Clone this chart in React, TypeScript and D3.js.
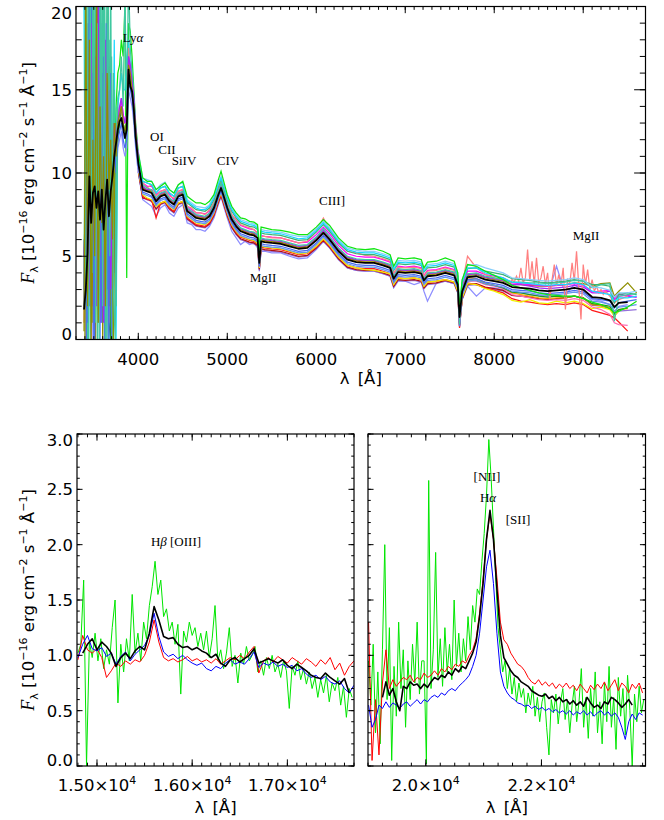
import React from "react";
import * as d3 from "d3";

type Pt = [number, number | null];

const SANS = "'DejaVu Sans', Verdana, sans-serif";
const SERIF = "'Liberation Serif', 'Times New Roman', serif";

// ================= TOP PANEL (observed optical) =================
const TOP_XRANGE = [3300, 9700];
const TOP_YRANGE = [0, 20];
const TOP_XTICKS = [4000, 5000, 6000, 7000, 8000, 9000];
const TOP_XTICK_LABELS = ["4000", "5000", "6000", "7000", "8000", "9000"];
const TOP_YTICKS = [0, 5, 10, 15, 20];
const TOP_YTICK_LABELS = ["0", "5", "10", "15", "20"];

// blue end sampling (3390..3970, 20 A)
const BLUE_WAVE = d3.range(3390, 3971, 20);
// second blue-end sampling (3400..3760, 20 A)
const BLUE2_WAVE = d3.range(3400, 3761, 20);
const TOP_WAVE = [4000, 4050, 4100, 4150, 4200, 4250, 4300, 4350, 4400, 4450, 4500, 4550, 4600, 4650, 4700, 4750, 4800, 4850, 4900, 4930, 4960, 5000, 5050, 5100, 5150, 5200, 5250, 5300, 5340, 5360, 5380, 5420, 5500, 5600, 5700, 5800, 5900, 6000, 6080, 6150, 6250, 6350, 6450, 6550, 6650, 6750, 6830, 6870, 6920, 7000, 7100, 7180, 7210, 7250, 7350, 7450, 7550, 7590, 7610, 7640, 7700, 7800, 7900, 8000, 8100, 8200, 8300, 8400, 8500, 8600, 8700, 8800, 8900, 9000, 9100, 9200, 9300, 9350, 9400, 9500, 9600];

const BLACK_BLUE = [1.8, 3.0, 5.2, 9.8, 7.0, 8.8, 9.2, 7.9, 8.9, 7.2, 9.0, 6.6, 8.3, 9.6, 7.4, 8.9, 9.8, 11.0, 11.8, 12.6, 13.1, 13.3, 12.7, 12.1, 12.6, 16.2, 15.2, 14.9, 13.8, 12.2];
const BLACK_MAIN = [10.6, 9.0, 8.9, 8.8, 8.3, 8.6, 8.7, 8.3, 8.1, 8.6, 8.7, 7.7, 7.5, 7.3, 7.25, 7.2, 7.4, 7.9, 8.7, 9.1, 8.6, 7.9, 7.2, 6.8, 6.5, 6.4, 6.3, 6.25, 6.1, 4.6, 5.9, 5.85, 5.8, 5.75, 5.6, 5.45, 5.5, 5.95, 6.4, 6.0, 5.3, 4.8, 4.65, 4.6, 4.6, 4.45, 4.3, 3.65, 4.05, 4.0, 4.05, 3.95, 3.55, 3.8, 3.85, 4.0, 3.85, 3.3, 1.35, 2.9, 3.75, 3.8, 3.6, 3.5, 3.4, 3.15, 3.1, 3.05, 2.95, 2.9, 2.95, 3.0, 3.1, 3.0, 2.55, 2.5, 2.35, 1.95, 2.2, 2.25, null];

const GREEN_BLUE = [null, null, null, null, null, null, null, null, null, null, null, null, null, null, null, 0, 12, 10, 14, 16, 16.5, 18, 17, 20, 3.7, 19, 18.5, 17, 15, 13];
const GREEN_MAIN = [11.2, 9.7, 9.5, 9.5, 9.0, 9.2, 9.4, 9.0, 8.8, 9.3, 9.5, 8.6, 8.4, 8.2, 8.2, 8.1, 8.3, 8.7, 9.6, 10.1, 9.5, 8.7, 8.0, 7.6, 7.3, 7.25, 7.1, 7.05, 6.9, 5.4, 6.75, 6.7, 6.6, 6.55, 6.45, 6.3, 6.3, 6.75, 7.2, 6.85, 6.1, 5.6, 5.45, 5.4, 5.45, 5.3, 5.1, 4.4, 4.9, 4.85, 4.9, 4.8, 4.3, 4.65, 4.7, 4.9, 4.7, 4.0, 1.9, 3.6, 4.5, 4.4, 4.1, 3.85, 3.6, 3.25, 3.1, 2.95, 2.8, 2.7, 2.65, 2.6, 2.6, 2.45, 2.25, 2.1, 1.85, 1.6, 1.7, 1.95, 2.3];
const CYAN_BLUE = [20, 0, 15, 4, 20, 1, 12, 6, 22, 0, 9, 18, 3, 14, 0, 11, 5, 18, 0, 14, 15, 16, 15, 15, 17, 18, 16.5, 16, 14.5, 12.5];
const CYAN_MAIN = [11.0, 9.5, 9.4, 9.3, 8.8, 9.1, 9.2, 8.8, 8.6, 9.1, 9.2, 8.3, 8.1, 7.9, 7.8, 7.8, 8.0, 8.5, 9.3, 9.7, 9.2, 8.5, 7.8, 7.4, 7.1, 7.0, 6.9, 6.85, 6.7, 5.1, 6.5, 6.45, 6.4, 6.35, 6.2, 6.05, 6.1, 6.55, 7.0, 6.6, 5.9, 5.4, 5.25, 5.2, 5.2, 5.05, 4.9, 4.2, 4.65, 4.6, 4.65, 4.55, 4.1, 4.4, 4.45, 4.6, 4.45, 3.8, 1.5, 3.4, 4.3, 4.3, 4.0, 3.85, 3.7, 3.45, 3.4, 3.35, 3.3, 3.25, 3.3, 3.3, 3.4, 3.3, 2.9, 2.8, 2.7, 2.3, 2.5, 2.5, 2.6];
const SKY_MAIN = [11.3, 9.7, 9.6, 9.5, 9.0, 9.3, 9.45, 9.0, 8.8, 9.3, 9.4, 8.4, 8.2, 8.0, 7.95, 7.9, 8.1, 8.6, 9.4, 9.8, 9.3, 8.6, 7.9, 7.5, 7.2, 7.1, 7.0, 6.95, 6.8, 5.3, 6.6, 6.55, 6.5, 6.45, 6.3, 6.2, 6.2, 6.65, 7.1, 6.7, 6.0, 5.5, 5.35, 5.3, 5.3, 5.15, 5.0, 4.35, 4.75, 4.7, 4.75, 4.65, 4.25, 4.5, 4.55, 4.7, 4.55, 4.0, 1.9, 3.6, 4.45, 4.5, 4.3, 4.15, 4.0, 3.7, 3.65, 3.6, 3.55, 3.5, 3.55, 3.6, 3.7, 3.6, 3.15, 3.1, 2.95, 2.55, 2.8, 2.8, 2.9];
const SEAGREEN_MAIN = [11.1, 9.5, 9.4, 9.3, 8.8, 9.1, 9.2, 8.8, 8.6, 9.1, 9.2, 8.2, 8.0, 7.8, 7.75, 7.7, 7.9, 8.4, 9.2, 9.6, 9.1, 8.4, 7.7, 7.3, 7.0, 6.9, 6.8, 6.75, 6.6, 5.1, 6.4, 6.35, 6.3, 6.25, 6.1, 5.95, 6.0, 6.45, 6.9, 6.5, 5.8, 5.3, 5.15, 5.1, 5.1, 4.95, 4.8, 4.15, 4.55, 4.5, 4.55, 4.45, 4.05, 4.3, 4.35, 4.5, 4.35, 3.8, 1.7, 3.4, 4.25, 4.3, 4.1, 4.0, 3.9, 3.65, 3.6, 3.55, 3.45, 3.4, 3.45, 3.5, 3.6, 3.5, 3.3, 3.3, 3.2, 2.2, 2.7, 2.8, 2.7];
const SALMON_BLUE = [1, 9, 3, 16, 0, 13, 8, 19, 2, 12, 4, 20, 6, 11, 1, 14, 10, 12, 12.5, 13.5, 14, 14, 13, 13, 13.5, 17.5, 16, 15.5, 14, 12.5];
const SALMON_MAIN = [10.9, 9.4, 9.1, 9.3, 8.6, 8.9, 9.0, 8.6, 8.5, 8.9, 9.0, 8.0, 7.9, 7.6, 7.6, 7.5, 7.8, 8.2, 9.1, 9.5, 9.0, 8.2, 7.5, 7.2, 6.9, 6.8, 6.7, 6.6, 6.4, 4.9, 6.2, 6.2, 6.1, 6.1, 5.95, 5.8, 5.9, 6.5, 7.3, 6.6, 5.8, 5.3, 5.2, 5.05, 5.0, 4.85, 4.7, 4.0, 4.35, 4.3, 4.35, 4.25, 3.8, 4.1, 4.15, 4.3, 4.15, 3.5, 1.2, 3.3, 5.0, 4.3, 3.9, 3.7, 3.6, null, null, null, null, null, null, null, null, null, null, null, 2.6, 2.2, 2.4, 2.6, null];
// salmon red-end noise, 8150..9250 every 25 A
const SALMON_RED_WAVE = d3.range(8150, 9251, 25);
const SALMON_RED = [3.5, 3.4, 3.6, 3.45, 3.8, 3.5, 4.3, 3.4, 3.7, 5.4, 3.5, 4.7, 3.3, 4.9, 3.4, 3.7, 4.4, 3.3, 4.0, 2.4, 3.6, 4.5, 3.2, 3.9, 3.3, 4.3, 1.8, 3.6, 3.4, 4.6, 3.5, 5.3, 3.2, 1.2, 4.5, 3.3, 4.2, 3.0, 3.6, 2.9, 3.2, 2.8, 3.0, 2.7, 2.9];
const LAVENDER_BLUE = [6, 0, 14, 2, 11, 0, 16, 4, 13, 0, 19, 3, 10, 0, 12, 2, 7, 11, 10, 11.5, 12, 12.5, 11.5, 11, 11.5, 15, 14.5, 14, 13, 11.5];
const LAVENDER_MAIN = [10.0, 8.4, 8.2, 8.0, 7.4, 7.9, 8.1, 7.6, 7.4, 7.9, 8.1, 7.0, 6.9, 6.6, 6.6, 6.5, 6.8, 7.3, 8.1, 8.6, 8.0, 7.3, 6.5, 6.1, 5.7, 5.9, 5.7, 5.8, 5.5, 4.2, 5.3, 5.3, 5.2, 5.2, 5.0, 4.85, 4.9, 5.4, 5.9, 5.5, 4.8, 4.3, 4.15, 4.1, 4.1, 3.95, 3.8, 3.1, 3.5, 3.5, 3.3, 3.45, 2.9, 2.3, 3.4, 3.5, 3.35, 2.8, 0.8, 2.4, 3.2, 2.6, 3.1, 3.1, 3.0, 2.8, 2.8, 2.7, 2.65, 2.6, 4.4, 2.7, 3.3, 2.9, 2.4, 2.3, 2.1, 1.6, 2.0, 2.1, null];
const MEDPURPLE_MAIN = [10.1, 8.5, 8.4, 8.3, 7.8, 8.1, 8.2, 7.8, 7.6, 8.1, 8.2, 7.2, 7.0, 6.8, 6.75, 6.7, 6.9, 7.4, 8.2, 8.6, 8.1, 7.4, 6.7, 6.3, 6.0, 5.9, 5.8, 5.75, 5.6, 4.1, 5.4, 5.35, 5.3, 5.25, 5.1, 4.95, 5.0, 5.45, 5.9, 5.5, 4.8, 4.3, 4.15, 4.1, 4.1, 3.95, 3.8, 3.15, 3.55, 3.5, 3.55, 3.45, 3.05, 3.3, 3.35, 3.5, 3.35, 2.8, 0.75, 2.4, 3.25, 3.3, 3.1, 3.0, 2.9, 2.65, 2.6, 2.55, 2.45, 2.4, 2.45, 2.5, 2.6, 2.5, 2.05, 2.0, 1.85, 1.45, 1.7, 1.75, 1.8];
const TEAL_BLUE = [3, 23, 0, 24, 2, 22, 0, 25, 1, 21, 3, 23, 0, 19, 4, 22, 0, 15, 2, 14.5, 15, 17, 14, 21, 13, 22, 17.5, 16, 14.5, 12.5];
const TEAL_MAIN = [10.9, 9.3, 9.1, 9.0, 8.5, 8.8, 8.9, 8.5, 8.3, 8.8, 8.9, 7.9, 7.7, 7.5, 7.45, 7.4, 7.6, 8.1, 8.9, 9.4, 8.8, 8.1, 7.4, 7.0, 6.7, 6.6, 6.5, 6.45, 6.3, 4.8, 6.1, 6.05, 6.0, 5.95, 5.8, 5.65, 5.7, 6.15, 6.65, 6.2, 5.5, 5.0, 4.85, 4.8, 4.8, 4.65, 4.5, 3.8, 4.25, 4.2, 4.25, 4.15, 3.6, 4.0, 4.05, 4.2, 4.05, 3.4, 0.9, 3.0, 3.95, 4.0, 3.8, 3.7, 3.6, 3.45, 3.45, 3.4, 3.4, 3.35, 3.4, 3.45, 3.55, 3.5, 3.1, 3.3, 3.35, 1.1, 2.6, 2.7, 2.75];
const TEAL2_BLUE = [20, 1, 23, 0, 22, 2, 24, 0, 21, 3, 25, 1, 20, 0, 18, 2, 16, 1, 14];
const TEAL3_BLUE = [2, 24, 0, 21, 4, 25, 1, 19, 0, 23, 2, 20, 0, 24, 5, 17, 3, 0, 13];
const OLIVE2_BLUE = [0, 19, 3, 22, 1, 17, 0, 20, 4, 18, 0, 15, 6, 21, 2, 12, 0, 13, 11];
const ROYAL2_BLUE = [15, 0, 19, 2, 23, 0, 17, 5, 22, 1, 16, 0, 19, 3, 14, 0, 12, 4, 12];
const MAGENTA_BLUE = [3, 11, 0, 9, 15, 2, 11, 7, 17, 1, 13, 5, 16, 2, 10, 7, 11, 12, 12.5, 13, 13.5, 14.5, 13.5, 13, 13.5, 17, 16, 15.5, 14, 12.5];
const MAGENTA_MAIN = [11.0, 9.4, 9.2, 9.2, 8.7, 8.9, 9.0, 8.7, 8.4, 8.9, 9.0, 8.0, 7.8, 7.6, 7.6, 7.55, 7.7, 8.2, 9.0, 9.45, 8.9, 8.2, 7.5, 7.15, 6.85, 6.75, 6.65, 6.6, 6.4, 4.9, 6.25, 6.2, 6.15, 6.1, 5.95, 5.8, 5.85, 6.3, 6.75, 6.35, 5.65, 5.15, 5.0, 4.95, 4.95, 4.8, 4.65, 3.95, 4.4, 4.35, 4.4, 4.3, 3.85, 4.15, 4.2, 4.35, 4.2, 3.6, 1.1, 3.2, 4.1, 4.1, 3.9, 3.8, 3.7, 3.4, 3.35, 3.3, 3.25, 3.2, 3.25, 3.3, 3.35, 3.25, 2.85, 2.9, 2.95, 2.4, 2.6, 2.65, 2.55];
const PURPLE_BLUE = [5, 8, 12, 3, 19, 6, 17, 2, 21, 5, 14, 1, 18, 7, 15, 3, 9, 13, 12, 13, 14, 14.5, 13.5, 13, 13.5, 17, 16.5, 15.5, 14.5, 12.8];
const PURPLE_MAIN = [10.8, 9.2, 9.0, 9.0, 8.45, 8.75, 8.85, 8.45, 8.25, 8.75, 8.85, 7.85, 7.65, 7.45, 7.4, 7.35, 7.55, 8.05, 8.85, 9.25, 8.75, 8.05, 7.35, 6.95, 6.65, 6.55, 6.45, 6.4, 6.25, 4.7, 6.05, 6.0, 5.95, 5.9, 5.75, 5.6, 5.65, 6.1, 6.55, 6.15, 5.45, 4.95, 4.8, 4.75, 4.75, 4.6, 4.45, 3.8, 4.2, 4.15, 4.2, 4.1, 3.7, 3.95, 4.0, 4.15, 4.0, 3.45, 1.0, 3.05, 3.9, 3.95, 3.75, 3.65, 3.55, 3.3, 3.3, 3.2, 3.1, 3.05, 3.1, 3.15, 3.25, 3.15, 2.8, 2.8, 2.9, 2.5, 2.75, 2.6, 2.55];
const ORANGE_MAIN = [10.65, 9.05, 8.95, 8.85, 8.35, 8.65, 8.75, 8.35, 8.15, 8.65, 8.75, 7.75, 7.55, 7.35, 7.3, 7.25, 7.45, 7.95, 8.75, 9.15, 8.65, 7.95, 7.25, 6.85, 6.55, 6.45, 6.35, 6.3, 6.15, 4.65, 5.95, 5.9, 5.85, 5.8, 5.65, 5.5, 5.55, 6.0, 6.45, 6.05, 5.35, 4.85, 4.7, 4.65, 4.65, 4.5, 4.35, 3.7, 4.1, 4.05, 4.1, 4.0, 3.6, 3.85, 3.9, 4.05, 3.9, 3.35, 1.1, 2.95, 3.7, 3.65, 3.4, 3.25, 3.1, 2.8, 2.7, 2.6, 2.5, 2.45, 2.5, 2.5, 2.6, 2.5, 2.1, 2.05, 1.9, 1.6, 1.8, 1.85, null];
const YELLOW_MAIN = [10.2, 8.7, 8.5, 8.4, 8.0, 8.2, 8.3, 8.0, 7.8, 8.2, 8.3, 7.4, 7.2, 7.0, 6.95, 6.9, 7.1, 7.6, 8.4, 8.8, 8.3, 7.6, 6.9, 6.5, 6.2, 6.1, 6.0, 5.95, 5.8, 4.3, 5.6, 5.55, 5.5, 5.45, 5.3, 5.15, 5.2, 5.6, 6.05, 5.65, 4.95, 4.45, 4.3, 4.2, 4.15, 4.05, 3.95, 3.3, 3.7, 3.65, 3.7, 3.6, 3.2, 3.45, 3.5, 3.6, 3.45, 2.9, 0.9, 2.5, 3.35, 3.3, 3.05, 2.9, 2.7, 2.35, 2.25, 2.4, 2.2, 2.15, 2.3, 2.2, 2.3, 2.15, 1.85, 1.95, 1.8, 1.4, 1.7, null, null];
const RED_MAIN = [10.3, 8.6, 8.4, 8.4, 7.3, 8.2, 8.3, 7.9, 7.7, 8.2, 8.3, 7.3, 7.1, 6.9, 6.85, 6.8, 7.0, 7.5, 8.3, 8.7, 8.2, 7.5, 6.85, 6.45, 6.15, 6.05, 5.95, 5.9, 5.75, 4.3, 5.55, 5.5, 5.45, 5.4, 5.25, 5.1, 5.15, 5.55, 6.0, 5.6, 4.95, 4.45, 4.3, 4.25, 4.25, 4.1, 3.95, 3.3, 3.7, 3.65, 3.7, 3.6, 3.2, 3.45, 3.5, 3.6, 3.45, 2.9, 0.7, 2.5, 3.4, 3.3, 3.1, 2.95, 2.8, 2.45, 2.3, 2.25, 2.15, 2.1, 2.15, 2.1, 2.2, 2.1, 1.75, 1.6, 1.45, 1.3, 1.05, 0.5, null];
const OLIVE_BLUE = [0.5, 21, 2, 18, 0, 12, 5, 20, 1, 14, 7, 11, 2, 16, 9, 12, 6, 13, 11, 13, 13.5, 14, 13, 12.5, 13, 16.5, 16, 15, 14, 12.5];
const OLIVE_MAIN = [10.7, 9.1, 9.0, 8.9, 8.4, 8.7, 8.8, 8.4, 8.2, 8.7, 8.8, 7.8, 7.6, 7.4, 7.35, 7.3, 7.5, 8.0, 8.8, 9.2, 8.7, 8.0, 7.3, 6.9, 6.6, 6.5, 6.4, 6.35, 6.2, 4.7, 6.0, 5.95, 5.9, 5.85, 5.7, 5.55, 5.6, 6.05, 6.5, 6.1, 5.4, 4.9, 4.75, 4.7, 4.7, 4.55, 4.4, 3.75, 4.15, 4.1, 4.15, 4.05, 3.65, 3.9, 3.95, 4.1, 3.95, 3.4, 1.2, 3.0, 3.85, 3.9, 3.7, 3.6, 3.5, 3.3, 3.3, 3.25, 3.2, 3.2, 3.25, 3.3, 3.4, 3.35, 3.2, 3.35, 3.4, 2.6, 2.9, 3.4, 2.8];
const ROYAL_BLUE = [2, 14, 1, 20, 5, 16, 0, 18, 3, 15, 1, 17, 4, 13, 0, 16, 8, 12, 10, 12, 12.5, 13, 12, 11.5, 12, 15.5, 15, 14.5, 13.5, 11.8];
const ROYAL_MAIN = [10.4, 8.85, 8.75, 8.6, 8.15, 8.45, 8.55, 8.15, 7.95, 8.45, 8.55, 7.55, 7.35, 7.15, 7.1, 7.05, 7.25, 7.75, 8.55, 8.95, 8.45, 7.75, 7.05, 6.65, 6.35, 6.25, 6.15, 6.1, 5.95, 4.4, 5.75, 5.7, 5.65, 5.6, 5.45, 5.3, 5.35, 5.8, 6.25, 5.85, 5.15, 4.65, 4.5, 4.45, 4.45, 4.3, 4.15, 3.5, 3.9, 3.85, 3.9, 3.8, 3.4, 3.65, 3.7, 3.85, 3.7, 3.15, 0.85, 2.75, 3.6, 3.65, 3.45, 3.35, 3.25, 3.0, 2.95, 2.9, 2.8, 2.75, 2.8, 2.85, 2.95, 2.85, 2.45, 2.4, 2.3, 1.9, 2.2, 2.3, 2.4];
const CORNFLOWER_MAIN = [10.35, 8.75, 8.65, 8.55, 8.05, 8.35, 8.45, 8.05, 7.85, 8.35, 8.45, 7.45, 7.25, 7.05, 7.0, 6.95, 7.15, 7.65, 8.45, 8.85, 8.35, 7.65, 6.95, 6.55, 6.25, 6.15, 6.05, 6.0, 5.85, 4.35, 5.65, 5.6, 5.55, 5.5, 5.35, 5.2, 5.25, 5.7, 6.15, 5.75, 5.05, 4.55, 4.4, 4.35, 4.35, 4.2, 4.05, 3.4, 3.8, 3.75, 3.8, 3.7, 3.3, 3.55, 3.6, 3.75, 3.6, 3.05, 0.8, 2.65, 3.5, 3.55, 3.35, 3.25, 3.15, 2.9, 2.85, 2.8, 2.7, 2.65, 2.7, 2.75, 2.85, 2.75, 2.3, 2.25, 2.1, 1.7, 1.95, 2.0, 2.1];
const DARKRED_MAIN = [10.1, 8.5, 8.45, 8.3, 7.85, 8.15, 8.25, 7.85, 7.65, 8.15, 8.25, 7.25, 7.05, 6.85, 6.8, 6.75, 6.95, 7.45, 8.25, 8.65, 8.15, 7.45, 6.75, 6.35, 6.05, 5.95, 5.85, 5.8, 5.65, 4.2, 5.45, 5.4, 5.35, 5.3, 5.15, 5.0, 5.05, 5.5, 5.95, 5.55, 4.85, 4.35, 4.2, 4.15, 4.15, 4.0, 3.85, 3.2, 3.6, 3.55, 3.6, 3.5, 3.1, 3.35, 3.4, 3.55, 3.4, 2.85, 0.9, 2.45, 3.3, 3.35, 3.15, 3.05, 2.95, 2.65, 2.6, 2.55, 2.45, 2.4, 2.45, 2.5, 2.6, 2.5, 2.1, 2.05, 1.9, 1.5, null, null, null];
// red-end only (7700..9600)
const PINK_RED = [3.5, 3.5, 3.3, 3.2, 3.05, 2.7, 2.6, 2.5, 2.4, 2.35, 2.4, 2.35, 2.45, 2.35, 1.95, 1.8, 1.5, 1.0, 0.9, 0.85, null];
const DKGREEN_BLUE = [5, 9, 2, 12, 6, 10, 3, 11, 7, 9, 4, 12, 8, 10, 1, 0, 12, 9, 11, 12, 13, 14, 13, 12.5, 13, 16, 15.5, 15, 13.5, 12];
const DKGREEN_RED = [3.6, 3.55, 3.35, 3.25, 3.1, 2.85, 2.8, 2.7, 2.6, 2.55, 2.6, 2.55, 2.6, 2.5, 2.15, 2.1, 2.0, 1.55, 1.8, 1.9, null];

const TOP_LINE_LABELS = ["Lyα", "OI", "CII", "SiIV", "CIV", "CIII]", "MgII", "MgII"];
const TOP_LINE_WAVE = [3941, 4210, 4323, 4514, 5008, 6177, 5402, 9032];
const TOP_LINE_FLUX = [17.87, 11.92, 11.15, 10.48, 10.48, 8.08, 3.45, 5.95];

// ================= BOTTOM PANELS (near-IR) =================
const BOT_YRANGE = [0, 3];
const BOT_YTICKS = [0, 0.5, 1, 1.5, 2, 2.5, 3];
const BOT_YTICK_LABELS = ["0.0", "0.5", "1.0", "1.5", "2.0", "2.5", "3.0"];

const BL_XRANGE = [14790, 17700];
const BL_XTICKS = [15000, 16000, 17000];
const BL_XTICK_LABELS = ["1.50×10", "1.60×10", "1.70×10"];
const BL_WAVE = d3.range(14800, 17701, 50);
const BL_BLACK = [null, 1.02, 1.10, 1.15, 1.05, 1.12, 1.08, 1.02, 0.90, 0.98, 1.02, 0.97, 1.04, 1.08, 1.05, 1.20, 1.44, 1.32, 1.17, 1.15, 1.16, 1.10, 1.07, 1.08, 1.05, 1.07, 1.04, 1.02, 0.98, 1.01, 0.93, 0.90, 0.96, 0.98, 0.94, 0.97, 1.00, 1.06, 0.93, 0.95, 0.97, 0.95, 0.93, 0.96, 0.91, 0.88, 0.92, 0.89, 0.86, 0.82, 0.80, 0.79, 0.84, 0.80, 0.77, 0.74, 0.79, 0.66, null];
const BL_RED = [0.96, 1.18, 1.05, 1.02, 1.06, 0.98, 0.80, 0.86, 0.93, 0.90, 0.95, 0.92, 0.96, 0.94, 1.00, 1.12, 1.32, 1.12, 0.98, 0.95, 0.97, 0.94, 0.96, 0.99, 0.95, 0.97, 0.94, 0.96, 0.93, 0.97, 0.92, 0.95, 0.98, 0.96, 1.00, 0.97, 1.03, 1.08, 0.84, 0.95, 0.98, 0.94, 0.99, 0.96, 0.93, 0.98, 0.95, 0.92, 0.97, 0.94, 0.90, 0.96, 0.92, 0.98, 0.87, 0.93, 0.82, 0.90, 0.95];
const BL_BLUE = [0.98, 1.10, 1.18, 1.06, 1.04, 1.07, 0.99, 1.02, 0.92, 0.99, 1.03, 0.95, 1.01, 1.05, 1.09, 1.18, 1.38, 1.17, 1.03, 0.99, 1.01, 0.97, 1.00, 0.96, 0.93, 0.91, 0.93, 0.88, 0.86, 0.90, 0.88, 0.93, 0.96, 0.92, 0.94, 0.92, 0.97, 1.03, 0.89, 0.93, 0.91, 0.94, 0.90, 0.92, 0.89, 0.91, 0.86, 0.88, 0.83, 0.80, 0.82, 0.78, 0.81, 0.76, 0.74, 0.77, 0.70, 0.66, 0.73];
const BL_GREEN_WAVE = d3.range(14800, 17681, 30);
const BL_GREEN = [1.02, 1.10, 1.68, 0.00, 1.12, 0.98, 1.20, 0.95, 1.15, 0.88, 1.05, 0.92, 1.25, 1.50, 0.57, 1.10, 0.85, 1.15, 0.95, 1.55, 1.02, 1.20, 0.95, 1.30, 1.15, 1.45, 1.62, 1.85, 1.55, 1.68, 1.35, 1.42, 1.22, 1.30, 1.10, 1.28, 0.65, 1.22, 1.12, 1.30, 1.18, 1.25, 1.08, 1.20, 1.05, 1.22, 0.98, 1.15, 1.45, 0.95, 1.05, 0.88, 1.02, 1.25, 0.90, 1.00, 0.75, 1.02, 0.92, 1.08, 0.95, 1.00, 1.08, 0.85, 0.95, 0.82, 0.98, 0.88, 1.00, 0.85, 0.92, 0.80, 0.95, 0.86, 0.52, 0.90, 0.82, 0.95, 0.78, 0.88, 0.74, 0.85, 0.70, 0.80, 0.62, 0.78, 0.66, 0.82, 0.58, 0.75, 0.68, 0.80, 0.55, 0.72, 0.44, 0.70, 0.62];
const BL_LINE_LABELS = ["Hβ [OIII]"];
const BL_LINE_WAVE = [15830];
const BL_LINE_FLUX = [1.99];

const BR_XRANGE = [19000, 23800];
const BR_XTICKS = [20000, 22000];
const BR_XTICK_LABELS = ["2.0×10", "2.2×10"];
const BR_WAVE = d3.range(19010, 23751, 60);
const BR_BLACK = [null, null, null, null, 0.62, 0.76, 0.64, 0.70, 0.58, 0.50, 0.72, 0.70, 0.76, 0.73, 0.74, 0.70, 0.74, 0.71, 0.76, 0.80, 0.78, 0.82, 0.80, 0.85, 0.82, 0.88, 0.85, 0.90, 0.88, 0.95, 1.02, 1.12, 1.35, 1.65, 2.05, 2.31, 2.05, 1.60, 1.18, 0.98, 0.92, 0.86, 0.82, 0.80, 0.76, 0.74, 0.72, 0.68, 0.66, 0.64, 0.63, 0.65, 0.61, 0.63, 0.59, 0.62, 0.58, 0.60, 0.56, 0.59, 0.55, 0.58, 0.54, 0.62, 0.57, 0.53, 0.55, 0.52, 0.58, 0.56, 0.62, 0.60, 0.57, 0.53, 0.56, 0.60, 0.55, null, null, null];
const BR_RED = [1.30, 0.05, 0.60, 0.10, 0.75, 1.05, 0.70, 0.78, 0.72, 0.76, 0.80, 0.78, 0.82, 0.76, 0.80, 0.78, 0.84, 0.80, 0.82, 0.86, 0.82, 0.88, 0.85, 0.90, 0.87, 0.92, 0.90, 0.95, 0.93, 1.00, 1.05, 1.15, 1.38, 1.68, 2.05, 2.28, 2.05, 1.70, 1.30, 1.14, 1.10, 1.02, 0.97, 0.92, 0.90, 0.86, 0.80, 0.76, 0.74, 0.78, 0.73, 0.76, 0.72, 0.75, 0.70, 0.74, 0.71, 0.75, 0.70, 0.73, 0.68, 0.74, 0.70, 0.66, 0.73, 0.69, 0.74, 0.70, 0.76, 0.68, 0.73, 0.78, 0.68, 0.75, 0.72, 0.66, 0.74, 0.70, 0.75, 0.66];
const BR_BLUE = [0.55, 0.35, 0.42, 0.55, 0.52, 0.58, 0.53, 0.57, 0.55, 0.52, 0.56, 0.58, 0.54, 0.57, 0.60, 0.56, 0.60, 0.58, 0.62, 0.64, 0.62, 0.66, 0.64, 0.68, 0.70, 0.68, 0.72, 0.75, 0.78, 0.82, 0.90, 1.00, 1.20, 1.50, 1.80, 1.95, 1.65, 1.20, 0.85, 0.72, 0.66, 0.62, 0.60, 0.57, 0.56, 0.54, 0.55, 0.52, 0.54, 0.51, 0.53, 0.50, 0.52, 0.49, 0.51, 0.48, 0.50, 0.47, 0.50, 0.46, 0.49, 0.47, 0.50, 0.46, 0.49, 0.45, 0.48, 0.50, 0.46, 0.49, 0.45, 0.48, 0.44, 0.35, 0.24, 0.40, 0.47, 0.42, 0.48, 0.46];
const BR_GREEN_WAVE = d3.range(19010, 23771, 40);
const BR_GREEN = [0.95, 0.55, 1.10, 0.30, 0.85, 0.20, 1.05, 2.00, 0.60, 1.25, 0.05, 0.90, 0.45, 1.30, 0.70, 1.05, 0.35, 0.95, 0.60, 1.10, 0.75, 1.30, 0.65, 0.95, 0.95, 0.02, 2.58, 0.70, 1.05, 1.93, 0.80, 1.15, 0.72, 1.25, 0.85, 1.10, 0.78, 1.50, 0.90, 1.20, 0.85, 1.15, 0.95, 1.35, 1.05, 1.45, 1.30, 1.60, 1.55, 1.85, 2.10, 2.45, 2.95, 2.60, 2.15, 1.70, 1.25, 1.05, 0.85, 0.95, 0.70, 0.88, 0.65, 0.80, 0.58, 0.75, 0.62, 0.70, 0.48, 0.66, 0.55, 0.72, 0.45, 0.62, 0.40, 0.58, 0.66, 0.35, 0.10, 0.60, 0.48, 0.65, 0.38, 0.58, 0.70, 0.42, 0.60, 0.30, 0.55, 0.72, 0.40, 0.58, 0.88, 0.35, 0.62, 0.25, 0.70, 0.45, 0.85, 0.30, 0.58, 0.20, 0.75, 0.40, 0.90, 0.35, 0.62, 0.15, 0.80, 0.45, 0.70, 0.28, 0.82, 0.50, 0.00, 0.65, 0.40, 0.72, 0.48, 0.60];
const BR_LINE_LABELS = ["[NII]", "Hα", "[SII]"];
const BR_LINE_WAVE = [21058, 21076, 21595];
const BR_LINE_FLUX = [2.575, 2.385, 2.187];

// ================= helpers =================
function zip(w: number[], v: (number | null)[]): Pt[] {
  return v.map((y, i) => [w[i], y] as Pt);
}

type Spec = { color: string; pts: Pt[] };

// main (>= 4000 A) parts, in drawing order
function mainSpec(color: string, main: (number | null)[], offset = 0, extra?: Pt[]): Spec {
  let pts = zip(TOP_WAVE.slice(offset), main);
  if (extra) {
    pts = pts.concat(extra).filter((p) => p[1] !== null);
    pts.sort((a, b) => a[0] - b[0]);
  }
  return { color, pts };
}
// blue-end parts (< 4000 A), joined to the first main sample
function blueSpec(color: string, blue: (number | null)[], wave: number[], join?: number | null): Spec {
  const pts = zip(wave, blue);
  if (join !== undefined) pts.push([TOP_WAVE[0], join]);
  return { color, pts };
}

const TOP_MAIN: Spec[] = [
  mainSpec("#8e8eff", LAVENDER_MAIN),
  mainSpec("#9370db", MEDPURPLE_MAIN),
  mainSpec("#b01010", DARKRED_MAIN),
  mainSpec("#ff1a1a", RED_MAIN),
  mainSpec("#f0f000", YELLOW_MAIN),
  mainSpec("#ffa500", ORANGE_MAIN),
  mainSpec("#ff6eb4", PINK_RED, 60),
  mainSpec("#1f9a1f", DKGREEN_RED, 60),
  mainSpec("#6495ed", CORNFLOWER_MAIN),
  mainSpec("#4a6cf0", ROYAL_MAIN),
  mainSpec("#8f8f00", OLIVE_MAIN),
  mainSpec("#a428f0", PURPLE_MAIN),
  mainSpec("#ff00ff", MAGENTA_MAIN),
  mainSpec("#ff8080", SALMON_MAIN, 0, zip(SALMON_RED_WAVE, SALMON_RED)),
  mainSpec("#3cb371", SEAGREEN_MAIN),
  mainSpec("#40c8a0", TEAL_MAIN),
  mainSpec("#87cefa", SKY_MAIN),
  mainSpec("#18d8ff", CYAN_MAIN),
  mainSpec("#10e610", GREEN_MAIN),
];

const TOP_BLUE_END: Spec[] = [
  blueSpec("#10e610", GREEN_BLUE, BLUE_WAVE, GREEN_MAIN[0]),
  blueSpec("#18d8ff", CYAN_BLUE, BLUE_WAVE, CYAN_MAIN[0]),
  blueSpec("#8e8eff", LAVENDER_BLUE, BLUE_WAVE, LAVENDER_MAIN[0]),
  blueSpec("#1f9a1f", DKGREEN_BLUE, BLUE_WAVE),
  blueSpec("#ff8080", SALMON_BLUE, BLUE_WAVE, SALMON_MAIN[0]),
  blueSpec("#ff00ff", MAGENTA_BLUE, BLUE_WAVE, MAGENTA_MAIN[0]),
  blueSpec("#40c8a0", TEAL2_BLUE, BLUE2_WAVE),
  blueSpec("#4a6cf0", ROYAL2_BLUE, BLUE2_WAVE),
  blueSpec("#40c8a0", TEAL_BLUE, BLUE_WAVE, TEAL_MAIN[0]),
  blueSpec("#8f8f00", OLIVE2_BLUE, BLUE2_WAVE),
  blueSpec("#a428f0", PURPLE_BLUE, BLUE_WAVE, PURPLE_MAIN[0]),
  blueSpec("#4a6cf0", ROYAL_BLUE, BLUE_WAVE, ROYAL_MAIN[0]),
  blueSpec("#40c8a0", TEAL3_BLUE, BLUE2_WAVE),
  blueSpec("#8f8f00", OLIVE_BLUE, BLUE_WAVE, OLIVE_MAIN[0]),
];

const TOP_BLACK: Pt[] = zip(BLUE_WAVE, BLACK_BLUE).concat(zip(TOP_WAVE, BLACK_MAIN));

function mkLine(x: d3.ScaleLinear<number, number>, y: d3.ScaleLinear<number, number>) {
  return d3
    .line<Pt>()
    .defined((d) => d[1] !== null)
    .x((d) => x(d[0]))
    .y((d) => y(d[1] as number));
}

function Frame(p: {
  x: d3.ScaleLinear<number, number>;
  y: d3.ScaleLinear<number, number>;
  xTicks: number[];
  xLabels: string[];
  xSup?: string;
  xMinorStep: number;
  yTicks: number[];
  yLabels?: string[];
  yMinorStep: number;
}) {
  const [L, R] = p.x.range();
  const [B, T] = p.y.range();
  const xl = 0.02 * (B - T);
  const yl = 0.02 * (R - L);
  const [xa, xb] = p.x.domain();
  const [ya, yb] = p.y.domain();
  const xm = d3.range(Math.ceil(xa / p.xMinorStep) * p.xMinorStep, xb + 1e-6, p.xMinorStep);
  const nY = Math.round((yb - ya) / p.yMinorStep);
  const ym = d3.range(0, nY + 1).map((i) => ya + i * p.yMinorStep);
  let d = "";
  xm.forEach((v) => {
    const px = p.x(v);
    d += `M${px},${B}V${B - xl / 2}M${px},${T}V${T + xl / 2}`;
  });
  p.xTicks.forEach((v) => {
    const px = p.x(v);
    d += `M${px},${B}V${B - xl}M${px},${T}V${T + xl}`;
  });
  ym.forEach((v) => {
    const py = p.y(v);
    d += `M${L},${py}H${L + yl / 2}M${R},${py}H${R - yl / 2}`;
  });
  p.yTicks.forEach((v) => {
    const py = p.y(v);
    d += `M${L},${py}H${L + yl}M${R},${py}H${R - yl}`;
  });
  return (
    <g>
      <path d={d} stroke="#000" strokeWidth={1} fill="none" />
      <rect x={L} y={T} width={R - L} height={B - T} fill="none" stroke="#000" strokeWidth={1.2} />
      {p.xTicks.map((v, i) => (
        <text key={"x" + i} x={p.x(v)} y={B + 25} textAnchor="middle" fontFamily={SANS} fontSize={16.5} fill="#000">
          {p.xLabels[i]}
          {p.xSup ? (
            <tspan dy={-7} fontSize={11}>
              {p.xSup}
            </tspan>
          ) : null}
        </text>
      ))}
      {p.yLabels
        ? p.yTicks.map((v, i) => {
            const c = Math.min(Math.max(p.y(v), T + 6), B - 6);
            return (
              <text key={"y" + i} x={L - 4} y={c + 6} textAnchor="end" fontFamily={SANS} fontSize={16.5} fill="#000">
                {p.yLabels![i]}
              </text>
            );
          })
        : null}
    </g>
  );
}

function YTitle({ x, y }: { x: number; y: number }) {
  return (
    <text transform={`translate(${x},${y}) rotate(-90)`} textAnchor="middle" fontFamily={SANS} fontSize={16.5} fill="#000">
      <tspan fontFamily={SERIF} fontStyle="italic" fontSize={18}>
        F
      </tspan>
      <tspan fontSize={11} dy={4}>
        λ
      </tspan>
      <tspan dy={-4}>{" [10"}</tspan>
      <tspan fontSize={11} dy={-7}>
        −16
      </tspan>
      <tspan dy={7}>{" erg cm"}</tspan>
      <tspan fontSize={11} dy={-7}>
        −2
      </tspan>
      <tspan dy={7}>{" s"}</tspan>
      <tspan fontSize={11} dy={-7}>
        −1
      </tspan>
      <tspan dy={7}>{" Å"}</tspan>
      <tspan fontSize={11} dy={-7}>
        −1
      </tspan>
      <tspan dy={7}>{"]"}</tspan>
    </text>
  );
}

function XTitle({ x, y }: { x: number; y: number }) {
  return (
    <text x={x} y={y} textAnchor="middle" fontFamily={SANS} fontSize={16.5} fill="#000" wordSpacing={3}>
      λ [Å]
    </text>
  );
}

function LineLabel({ x, y, t }: { x: number; y: number; t: string }) {
  const parts = t.split(/([αβ])/).filter((s) => s.length > 0);
  return (
    <text x={x} y={y} textAnchor="middle" fontFamily={SERIF} fontSize={13} fill="#000">
      {parts.map((s, i) =>
        s === "α" || s === "β" ? (
          <tspan key={i} fontStyle="italic">
            {s}
          </tspan>
        ) : (
          <tspan key={i}>{s}</tspan>
        )
      )}
    </text>
  );
}

export default function App() {
  const xT = d3.scaleLinear().domain(TOP_XRANGE).range([76, 645.5]);
  const yT = d3.scaleLinear().domain(TOP_YRANGE).range([339.5, 6.5]);
  const xL = d3.scaleLinear().domain(BL_XRANGE).range([77, 354]);
  const xR = d3.scaleLinear().domain(BR_XRANGE).range([368, 645.5]);
  const yB = d3.scaleLinear().domain(BOT_YRANGE).range([766, 434]);

  const lT = mkLine(xT, yT);
  const lL = mkLine(xL, yB);
  const lR = mkLine(xR, yB);

  const leftSeries = [
    { c: "#00e600", w: 1, pts: zip(BL_GREEN_WAVE, BL_GREEN) },
    { c: "#ff0000", w: 1, pts: zip(BL_WAVE, BL_RED) },
    { c: "#0000ff", w: 1, pts: zip(BL_WAVE, BL_BLUE) },
    { c: "#000000", w: 1.6, pts: zip(BL_WAVE, BL_BLACK) },
  ];
  const rightSeries = [
    { c: "#00e600", w: 1, pts: zip(BR_GREEN_WAVE, BR_GREEN) },
    { c: "#ff0000", w: 1, pts: zip(BR_WAVE, BR_RED) },
    { c: "#0000ff", w: 1, pts: zip(BR_WAVE, BR_BLUE) },
    { c: "#000000", w: 1.6, pts: zip(BR_WAVE, BR_BLACK) },
  ];

  return (
    <svg width={664} height={820} style={{ position: "absolute", left: 0, top: 0, background: "#fff" }}>
      <rect x={0} y={0} width={664} height={820} fill="#fff" />
      <defs>
        <clipPath id="clipT">
          <rect x={76} y={6.5} width={569.5} height={333} />
        </clipPath>
        <clipPath id="clipL">
          <rect x={77} y={434} width={277} height={332} />
        </clipPath>
        <clipPath id="clipR">
          <rect x={368} y={434} width={277.5} height={332} />
        </clipPath>
      </defs>

      {/* top panel */}
      <g clipPath="url(#clipT)">
        {TOP_MAIN.map((s, i) => (
          <path key={"m" + i} d={lT(s.pts) || ""} fill="none" stroke={s.color} strokeWidth={1.25} />
        ))}
        {TOP_BLUE_END.map((s, i) => (
          <path key={"b" + i} d={lT(s.pts) || ""} fill="none" stroke={s.color} strokeWidth={1.25} />
        ))}
        <path d={lT(TOP_BLACK) || ""} fill="none" stroke="#000" strokeWidth={1.8} strokeLinejoin="round" />
      </g>
      <Frame
        x={xT}
        y={yT}
        xTicks={TOP_XTICKS}
        xLabels={TOP_XTICK_LABELS}
        xMinorStep={100}
        yTicks={TOP_YTICKS}
        yLabels={TOP_YTICK_LABELS}
        yMinorStep={1}
      />
      {TOP_LINE_LABELS.map((t, i) => (
        <LineLabel key={i} x={xT(TOP_LINE_WAVE[i])} y={yT(TOP_LINE_FLUX[i])} t={t} />
      ))}
      <YTitle x={34} y={173} />
      <XTitle x={(76 + 645.5) / 2} y={384} />

      {/* bottom left */}
      <g clipPath="url(#clipL)">
        {leftSeries.map((s, i) => (
          <path key={i} d={lL(s.pts) || ""} fill="none" stroke={s.c} strokeWidth={s.w} strokeLinejoin="round" />
        ))}
      </g>
      <Frame
        x={xL}
        y={yB}
        xTicks={BL_XTICKS}
        xLabels={BL_XTICK_LABELS}
        xSup="4"
        xMinorStep={100}
        yTicks={BOT_YTICKS}
        yLabels={BOT_YTICK_LABELS}
        yMinorStep={0.1}
      />
      {BL_LINE_LABELS.map((t, i) => (
        <LineLabel key={i} x={xL(BL_LINE_WAVE[i])} y={yB(BL_LINE_FLUX[i])} t={t} />
      ))}
      <YTitle x={34} y={600} />
      <XTitle x={(77 + 354) / 2} y={813} />

      {/* bottom right */}
      <g clipPath="url(#clipR)">
        {rightSeries.map((s, i) => (
          <path key={i} d={lR(s.pts) || ""} fill="none" stroke={s.c} strokeWidth={s.w} strokeLinejoin="round" />
        ))}
      </g>
      <Frame
        x={xR}
        y={yB}
        xTicks={BR_XTICKS}
        xLabels={BR_XTICK_LABELS}
        xSup="4"
        xMinorStep={250}
        yTicks={BOT_YTICKS}
        yMinorStep={0.1}
      />
      {BR_LINE_LABELS.map((t, i) => (
        <LineLabel key={i} x={xR(BR_LINE_WAVE[i])} y={yB(BR_LINE_FLUX[i])} t={t} />
      ))}
      <XTitle x={(368 + 645.5) / 2} y={813} />
    </svg>
  );
}
